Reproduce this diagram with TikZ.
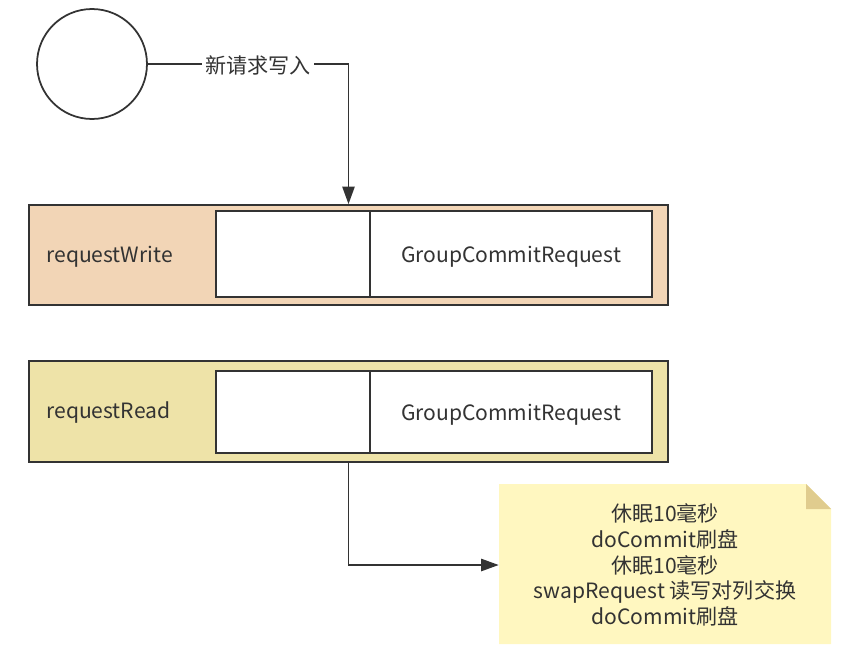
\documentclass[tikz,border=0pt]{standalone}
\usepackage{fontspec}
\setmainfont{Noto Sans CJK SC}
\usepackage{tikz}
\usetikzlibrary{arrows.meta,backgrounds}
\definecolor{inkgray}{HTML}{333333}
\definecolor{writefill}{HTML}{F2D5B6}
\definecolor{readfill}{HTML}{EEE3A8}
\definecolor{notefill}{HTML}{FFF7C0}
\definecolor{notefold}{HTML}{E0CC8E}

\begin{document}
\begin{tikzpicture}[x=0.02cm, y=-0.02cm, font=\fontsize{12}{14.6}\selectfont, text=inkgray,
    line/.style={draw=inkgray, line width=1pt},
    queue/.style={line, minimum width=12.78cm, minimum height=2cm, inner sep=0pt},
    cell/.style={line, fill=white, inner sep=0pt, minimum height=1.72cm, text depth=-2.5pt},
    flow/.style={line, -{Triangle[length=10pt,width=7pt]}}]
                \useasboundingbox (0,0) rectangle (865,653);
                \node [line, circle, minimum size=2.2cm] (start) at (92,64) {};
                % write side
                \node [queue, fill=writefill] (writeq) at (348.5,255) {};
                \node [anchor=west, inner sep=0pt] (writename) at (46,257) {requestWrite};
                \node [cell, minimum width=3.08cm] (writeslot) at (293,254) {};
                \node [cell, minimum width=5.64cm] (writereq) at (511,254) {GroupCommitRequest};
                % read side
                \node [queue, fill=readfill, minimum height=2.02cm] (readq) at (348.5,411.5) {};
                \node [anchor=west, inner sep=0pt] (readname) at (46,413) {requestRead};
                \node [cell, minimum width=3.08cm, minimum height=1.64cm] (readslot) at (293,412) {};
                \node [cell, minimum width=5.64cm, minimum height=1.64cm] (readreq) at (511,412) {GroupCommitRequest};
                % note
                \node [minimum width=6.64cm, minimum height=3.2cm, align=center] (memo) at (665,565)
                    {休眠10毫秒\\doCommit刷盘\\休眠10毫秒\\swapRequest 读写对列交换\\doCommit刷盘};
                \begin{scope}[on background layer]
                    \fill [notefill] (499,644) -- (499,484) -- (806,484) -- (831,509) -- (831,644) -- cycle;
                    \fill [notefold] (806,484) -- (831,509) -- (806,509) -- cycle;
                \end{scope}
                % connectors
                \draw [flow] (start) -- node [pos=0.55, fill=white, inner sep=2pt, yshift=-1pt] {新请求写入} (writeq.north |- start) -- (writeq.north);
                \draw [flow] (readq.south) |- (memo.west);
            \end{tikzpicture}
\end{document}
